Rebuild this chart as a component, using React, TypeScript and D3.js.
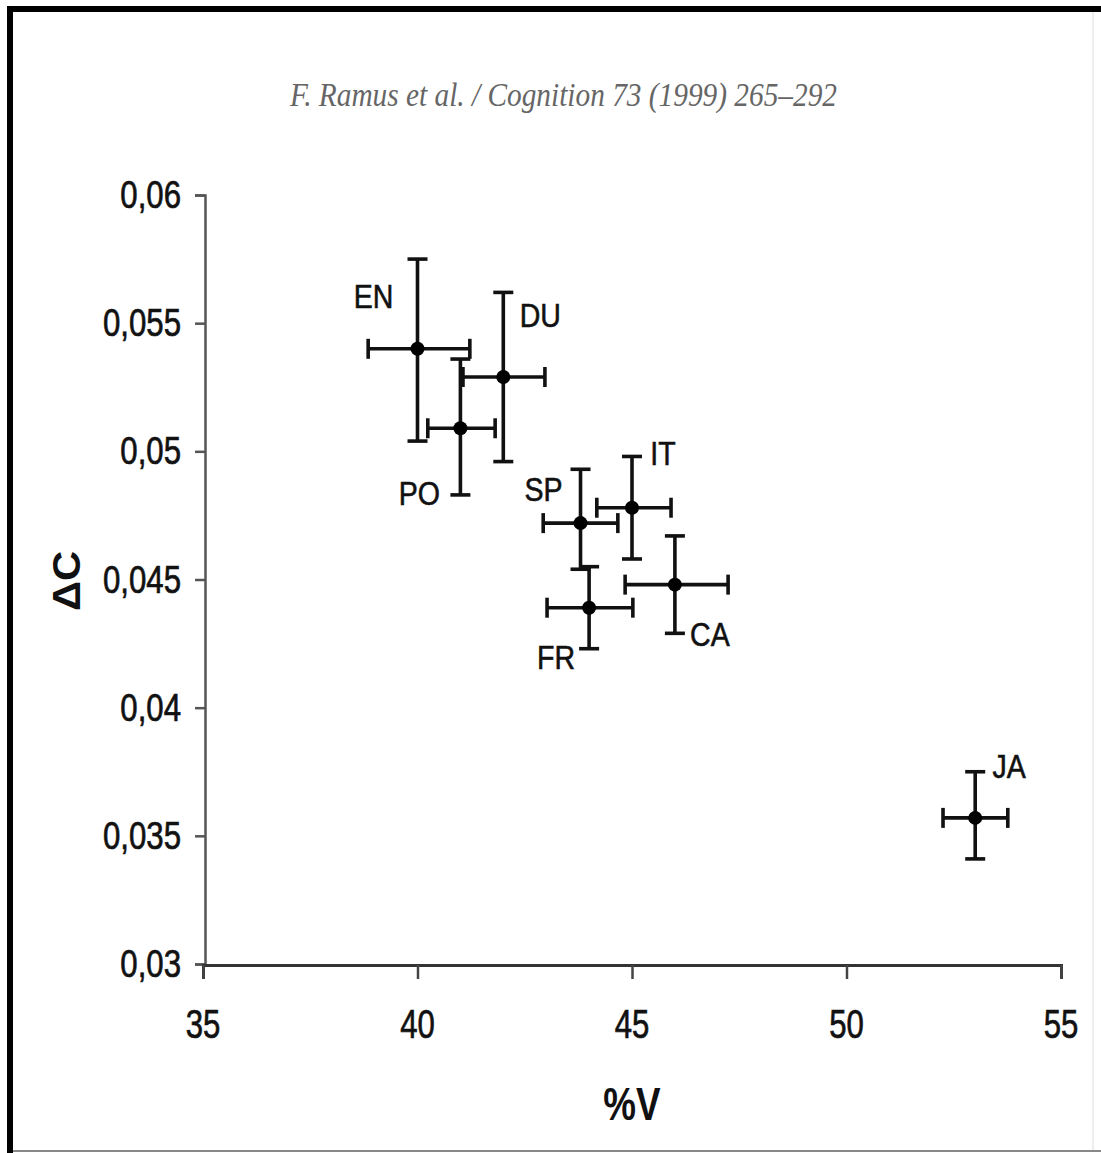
import { useEffect, useRef } from 'react';
import * as d3 from 'd3';

// Languages and their mean / spread values
const languages: string[] = ['EN', 'DU', 'PO', 'SP', 'IT', 'CA', 'FR', 'JA'];
const percentV: number[] = [40.0, 42.0, 41.0, 43.8, 45.0, 46.0, 44.0, 53.0];
const percentVLow: number[] = [38.85, 41.06, 40.24, 42.93, 44.18, 44.84, 43.02, 52.25];
const percentVHigh: number[] = [41.22, 42.97, 41.81, 44.67, 45.91, 47.24, 45.02, 53.76];
const deltaC: number[] = [0.054, 0.0529, 0.0509, 0.0472, 0.0478, 0.0448, 0.0439, 0.0357];
const deltaCLow: number[] = [0.0504, 0.0496, 0.0483, 0.0454, 0.0458, 0.0429, 0.0423, 0.0341];
const deltaCHigh: number[] = [0.0575, 0.0562, 0.0536, 0.0493, 0.0498, 0.0467, 0.0455, 0.0375];

const xTicks: number[] = [35, 40, 45, 50, 55];
const xTickLabels: string[] = ['35', '40', '45', '50', '55'];
const yTicks: number[] = [0.03, 0.035, 0.04, 0.045, 0.05, 0.055, 0.06];
const yTickLabels: string[] = ['0,03', '0,035', '0,04', '0,045', '0,05', '0,055', '0,06'];

const titleText = 'F. Ramus et al. / Cognition 73 (1999) 265–292';
const xTitle = '%V';
const yTitle = 'ΔC';

// where each language label sits relative to its point (px)
const labelPlacement: { [key: string]: [number, number] } = {
  EN: [-44, -53],
  DU: [37, -62],
  PO: [-41, 65],
  SP: [-37, -34],
  IT: [31, -55],
  CA: [35, 49],
  FR: [-33, 49],
  JA: [34, -52],
};

const App: React.FC = () => {
  const svgRef = useRef<SVGSVGElement | null>(null);

  useEffect(() => {
    if (!svgRef.current) return;

    const width = 1101;
    const height = 1153;
    const font = "'Liberation Sans', Arial, sans-serif";

    const x = d3.scaleLinear().domain([35, 55]).range([203, 1061]);
    const y = d3.scaleLinear().domain([0.03, 0.06]).range([964, 195]);

    const svg = d3.select(svgRef.current);
    svg.selectAll('*').remove();

    svg.append('rect').attr('width', width).attr('height', height).attr('fill', '#fff');

    // frame round the scanned page
    svg.append('line').attr('x1', 10).attr('x2', 10).attr('y1', 6).attr('y2', 1153)
      .attr('stroke', '#000').attr('stroke-width', 6);
    svg.append('line').attr('x1', 7).attr('x2', 1101).attr('y1', 9).attr('y2', 9)
      .attr('stroke', '#000').attr('stroke-width', 6);
    svg.append('line').attr('x1', 1093).attr('x2', 1093).attr('y1', 12).attr('y2', 1151)
      .attr('stroke', '#ddd').attr('stroke-width', 1);
    svg.append('line').attr('x1', 13).attr('x2', 1101).attr('y1', 1151).attr('y2', 1151)
      .attr('stroke', '#888').attr('stroke-width', 2);

    svg.append('text')
      .attr('x', 290).attr('y', 106)
      .attr('textLength', 547).attr('lengthAdjust', 'spacingAndGlyphs')
      .attr('font-family', "'Liberation Serif', 'Times New Roman', serif")
      .attr('font-style', 'italic')
      .attr('font-size', 34)
      .attr('fill', '#666')
      .text(titleText);

    // axes
    const yAxis = svg.append('g')
      .attr('transform', 'translate(205,0)')
      .call(d3.axisLeft(y).tickValues(yTicks).tickSize(10).tickFormat(() => ''));
    yAxis.select('.domain').attr('stroke', '#555').attr('stroke-width', 2.5);
    yAxis.selectAll('.tick line').attr('stroke', '#555').attr('stroke-width', 2.5);

    const xAxis = svg.append('g')
      .attr('transform', 'translate(0,965)')
      .call(d3.axisBottom(x).tickValues(xTicks).tickSize(14).tickFormat(() => ''));
    xAxis.select('.domain').attr('stroke', '#333').attr('stroke-width', 3);
    xAxis.selectAll('.tick line').attr('stroke', '#444').attr('stroke-width', 2.5);

    yTicks.forEach((t, i) => {
      svg.append('text')
        .attr('transform', `translate(181,${y(t) + 13}) scale(0.8,1)`)
        .attr('text-anchor', 'end')
        .attr('font-family', font)
        .attr('font-size', 39)
        .attr('fill', '#111')
        .attr('stroke', '#111')
        .attr('stroke-width', 0.7)
        .text(yTickLabels[i]);
    });

    xTicks.forEach((t, i) => {
      svg.append('text')
        .attr('transform', `translate(${x(t)},1038) scale(0.76,1)`)
        .attr('text-anchor', 'middle')
        .attr('font-family', font)
        .attr('font-size', 41)
        .attr('fill', '#111')
        .attr('stroke', '#111')
        .attr('stroke-width', 0.7)
        .text(xTickLabels[i]);
    });

    svg.append('text')
      .attr('transform', 'translate(632,1120) scale(0.8,1)')
      .attr('text-anchor', 'middle')
      .attr('font-family', font)
      .attr('font-weight', 'bold')
      .attr('font-size', 46)
      .attr('fill', '#111')
      .text(xTitle);

    svg.append('text')
      .attr('transform', 'translate(80,581) rotate(-90) scale(1.1,1)')
      .attr('text-anchor', 'middle')
      .attr('font-family', font)
      .attr('font-weight', 'bold')
      .attr('font-size', 38)
      .attr('fill', '#111')
      .text(yTitle);

    // error bars and points
    const cap = 10;
    const bars = svg.append('g').attr('stroke', '#111').attr('stroke-width', 3.6);
    languages.forEach((lang, i) => {
      const cx = x(percentV[i]);
      const cy = y(deltaC[i]);
      const x0 = x(percentVLow[i]);
      const x1 = x(percentVHigh[i]);
      const y0 = y(deltaCLow[i]);
      const y1 = y(deltaCHigh[i]);

      bars.append('line').attr('x1', x0).attr('x2', x1).attr('y1', cy).attr('y2', cy);
      bars.append('line').attr('x1', cx).attr('x2', cx).attr('y1', y0).attr('y2', y1);
      bars.append('line').attr('x1', x0).attr('x2', x0).attr('y1', cy - cap).attr('y2', cy + cap);
      bars.append('line').attr('x1', x1).attr('x2', x1).attr('y1', cy - cap).attr('y2', cy + cap);
      bars.append('line').attr('x1', cx - cap).attr('x2', cx + cap).attr('y1', y0).attr('y2', y0);
      bars.append('line').attr('x1', cx - cap).attr('x2', cx + cap).attr('y1', y1).attr('y2', y1);

      svg.append('circle').attr('cx', cx).attr('cy', cy).attr('r', 7).attr('fill', '#000');

      const [dx, dy] = labelPlacement[lang];
      svg.append('text')
        .attr('transform', `translate(${cx + dx},${cy + dy + 12}) scale(0.84,1)`)
        .attr('text-anchor', 'middle')
        .attr('font-family', font)
        .attr('font-size', 34)
        .attr('fill', '#111')
        .attr('stroke', '#111')
        .attr('stroke-width', 0.6)
        .text(lang);
    });
  }, []);

  return (
    <svg
      ref={svgRef}
      width={1101}
      height={1153}
      style={{ position: 'absolute', left: 0, top: 0 }}
    ></svg>
  );
};

export default App;
